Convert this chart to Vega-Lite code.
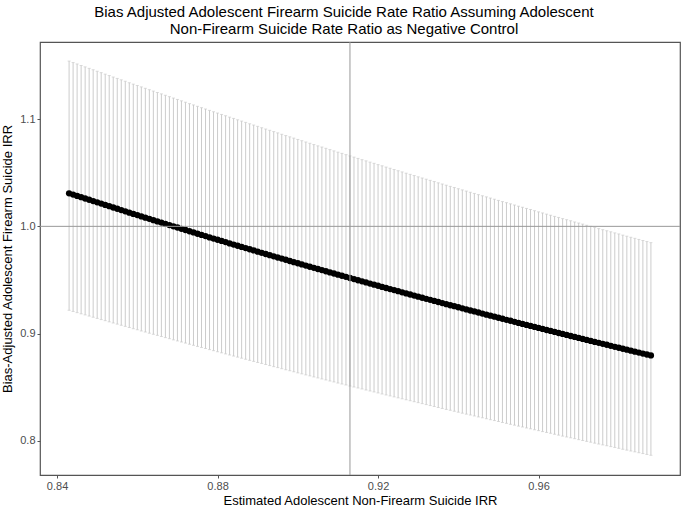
{
"$schema":"https://vega.github.io/schema/vega-lite/v6.json",
"width":640,"height":433,
"autosize":{"type":"none"},
"padding":{"left":40,"top":42,"right":5,"bottom":32},
"title":{"text":["Bias Adjusted Adolescent Firearm Suicide Rate Ratio Assuming Adolescent","Non-Firearm Suicide Rate Ratio as Negative Control"],"fontSize":15,"fontWeight":"normal","anchor":"middle","frame":"group","dx":-16,"offset":5,"color":"#000000","lineHeight":17},
"data":{"values":[
{"x":0.843,"y":1.0308,"lo":0.9217,"hi":1.1542},
{"x":0.844,"y":1.0296,"lo":0.9206,"hi":1.1528},
{"x":0.845,"y":1.0284,"lo":0.9195,"hi":1.1515},
{"x":0.846,"y":1.0272,"lo":0.9184,"hi":1.1501},
{"x":0.847,"y":1.0260,"lo":0.9174,"hi":1.1488},
{"x":0.848,"y":1.0248,"lo":0.9163,"hi":1.1474},
{"x":0.849,"y":1.0236,"lo":0.9152,"hi":1.1461},
{"x":0.850,"y":1.0224,"lo":0.9141,"hi":1.1447},
{"x":0.851,"y":1.0212,"lo":0.9130,"hi":1.1434},
{"x":0.852,"y":1.0200,"lo":0.9120,"hi":1.1420},
{"x":0.853,"y":1.0188,"lo":0.9109,"hi":1.1407},
{"x":0.854,"y":1.0176,"lo":0.9098,"hi":1.1393},
{"x":0.855,"y":1.0164,"lo":0.9088,"hi":1.1380},
{"x":0.856,"y":1.0152,"lo":0.9077,"hi":1.1367},
{"x":0.857,"y":1.0140,"lo":0.9067,"hi":1.1354},
{"x":0.858,"y":1.0128,"lo":0.9056,"hi":1.1340},
{"x":0.859,"y":1.0116,"lo":0.9045,"hi":1.1327},
{"x":0.860,"y":1.0105,"lo":0.9035,"hi":1.1314},
{"x":0.861,"y":1.0093,"lo":0.9024,"hi":1.1301},
{"x":0.862,"y":1.0081,"lo":0.9014,"hi":1.1288},
{"x":0.863,"y":1.0070,"lo":0.9003,"hi":1.1275},
{"x":0.864,"y":1.0058,"lo":0.8993,"hi":1.1262},
{"x":0.865,"y":1.0046,"lo":0.8983,"hi":1.1249},
{"x":0.866,"y":1.0035,"lo":0.8972,"hi":1.1236},
{"x":0.867,"y":1.0023,"lo":0.8962,"hi":1.1223},
{"x":0.868,"y":1.0012,"lo":0.8952,"hi":1.1210},
{"x":0.869,"y":1.0000,"lo":0.8941,"hi":1.1197},
{"x":0.870,"y":0.9989,"lo":0.8931,"hi":1.1184},
{"x":0.871,"y":0.9977,"lo":0.8921,"hi":1.1171},
{"x":0.872,"y":0.9966,"lo":0.8911,"hi":1.1158},
{"x":0.873,"y":0.9954,"lo":0.8900,"hi":1.1145},
{"x":0.874,"y":0.9943,"lo":0.8890,"hi":1.1133},
{"x":0.875,"y":0.9931,"lo":0.8880,"hi":1.1120},
{"x":0.876,"y":0.9920,"lo":0.8870,"hi":1.1107},
{"x":0.877,"y":0.9909,"lo":0.8860,"hi":1.1095},
{"x":0.878,"y":0.9897,"lo":0.8850,"hi":1.1082},
{"x":0.879,"y":0.9886,"lo":0.8840,"hi":1.1069},
{"x":0.880,"y":0.9875,"lo":0.8830,"hi":1.1057},
{"x":0.881,"y":0.9864,"lo":0.8820,"hi":1.1044},
{"x":0.882,"y":0.9853,"lo":0.8810,"hi":1.1032},
{"x":0.883,"y":0.9841,"lo":0.8800,"hi":1.1019},
{"x":0.884,"y":0.9830,"lo":0.8790,"hi":1.1007},
{"x":0.885,"y":0.9819,"lo":0.8780,"hi":1.0994},
{"x":0.886,"y":0.9808,"lo":0.8770,"hi":1.0982},
{"x":0.887,"y":0.9797,"lo":0.8760,"hi":1.0970},
{"x":0.888,"y":0.9786,"lo":0.8750,"hi":1.0957},
{"x":0.889,"y":0.9775,"lo":0.8740,"hi":1.0945},
{"x":0.890,"y":0.9764,"lo":0.8730,"hi":1.0933},
{"x":0.891,"y":0.9753,"lo":0.8721,"hi":1.0920},
{"x":0.892,"y":0.9742,"lo":0.8711,"hi":1.0908},
{"x":0.893,"y":0.9731,"lo":0.8701,"hi":1.0896},
{"x":0.894,"y":0.9720,"lo":0.8691,"hi":1.0884},
{"x":0.895,"y":0.9709,"lo":0.8682,"hi":1.0872},
{"x":0.896,"y":0.9699,"lo":0.8672,"hi":1.0859},
{"x":0.897,"y":0.9688,"lo":0.8662,"hi":1.0847},
{"x":0.898,"y":0.9677,"lo":0.8653,"hi":1.0835},
{"x":0.899,"y":0.9666,"lo":0.8643,"hi":1.0823},
{"x":0.900,"y":0.9656,"lo":0.8633,"hi":1.0811},
{"x":0.901,"y":0.9645,"lo":0.8624,"hi":1.0799},
{"x":0.902,"y":0.9634,"lo":0.8614,"hi":1.0787},
{"x":0.903,"y":0.9623,"lo":0.8605,"hi":1.0775},
{"x":0.904,"y":0.9613,"lo":0.8595,"hi":1.0763},
{"x":0.905,"y":0.9602,"lo":0.8586,"hi":1.0751},
{"x":0.906,"y":0.9592,"lo":0.8576,"hi":1.0740},
{"x":0.907,"y":0.9581,"lo":0.8567,"hi":1.0728},
{"x":0.908,"y":0.9570,"lo":0.8557,"hi":1.0716},
{"x":0.909,"y":0.9560,"lo":0.8548,"hi":1.0704},
{"x":0.910,"y":0.9549,"lo":0.8538,"hi":1.0692},
{"x":0.911,"y":0.9539,"lo":0.8529,"hi":1.0681},
{"x":0.912,"y":0.9529,"lo":0.8520,"hi":1.0669},
{"x":0.913,"y":0.9518,"lo":0.8510,"hi":1.0657},
{"x":0.914,"y":0.9508,"lo":0.8501,"hi":1.0646},
{"x":0.915,"y":0.9497,"lo":0.8492,"hi":1.0634},
{"x":0.916,"y":0.9487,"lo":0.8483,"hi":1.0622},
{"x":0.917,"y":0.9477,"lo":0.8473,"hi":1.0611},
{"x":0.918,"y":0.9466,"lo":0.8464,"hi":1.0599},
{"x":0.919,"y":0.9456,"lo":0.8455,"hi":1.0588},
{"x":0.920,"y":0.9446,"lo":0.8446,"hi":1.0576},
{"x":0.921,"y":0.9435,"lo":0.8436,"hi":1.0565},
{"x":0.922,"y":0.9425,"lo":0.8427,"hi":1.0553},
{"x":0.923,"y":0.9415,"lo":0.8418,"hi":1.0542},
{"x":0.924,"y":0.9405,"lo":0.8409,"hi":1.0530},
{"x":0.925,"y":0.9395,"lo":0.8400,"hi":1.0519},
{"x":0.926,"y":0.9384,"lo":0.8391,"hi":1.0508},
{"x":0.927,"y":0.9374,"lo":0.8382,"hi":1.0496},
{"x":0.928,"y":0.9364,"lo":0.8373,"hi":1.0485},
{"x":0.929,"y":0.9354,"lo":0.8364,"hi":1.0474},
{"x":0.930,"y":0.9344,"lo":0.8355,"hi":1.0462},
{"x":0.931,"y":0.9334,"lo":0.8346,"hi":1.0451},
{"x":0.932,"y":0.9324,"lo":0.8337,"hi":1.0440},
{"x":0.933,"y":0.9314,"lo":0.8328,"hi":1.0429},
{"x":0.934,"y":0.9304,"lo":0.8319,"hi":1.0418},
{"x":0.935,"y":0.9294,"lo":0.8310,"hi":1.0406},
{"x":0.936,"y":0.9284,"lo":0.8301,"hi":1.0395},
{"x":0.937,"y":0.9274,"lo":0.8292,"hi":1.0384},
{"x":0.938,"y":0.9264,"lo":0.8284,"hi":1.0373},
{"x":0.939,"y":0.9255,"lo":0.8275,"hi":1.0362},
{"x":0.940,"y":0.9245,"lo":0.8266,"hi":1.0351},
{"x":0.941,"y":0.9235,"lo":0.8257,"hi":1.0340},
{"x":0.942,"y":0.9225,"lo":0.8248,"hi":1.0329},
{"x":0.943,"y":0.9215,"lo":0.8240,"hi":1.0318},
{"x":0.944,"y":0.9206,"lo":0.8231,"hi":1.0307},
{"x":0.945,"y":0.9196,"lo":0.8222,"hi":1.0296},
{"x":0.946,"y":0.9186,"lo":0.8214,"hi":1.0285},
{"x":0.947,"y":0.9176,"lo":0.8205,"hi":1.0275},
{"x":0.948,"y":0.9167,"lo":0.8196,"hi":1.0264},
{"x":0.949,"y":0.9157,"lo":0.8188,"hi":1.0253},
{"x":0.950,"y":0.9147,"lo":0.8179,"hi":1.0242},
{"x":0.951,"y":0.9138,"lo":0.8170,"hi":1.0231},
{"x":0.952,"y":0.9128,"lo":0.8162,"hi":1.0221},
{"x":0.953,"y":0.9119,"lo":0.8153,"hi":1.0210},
{"x":0.954,"y":0.9109,"lo":0.8145,"hi":1.0199},
{"x":0.955,"y":0.9099,"lo":0.8136,"hi":1.0188},
{"x":0.956,"y":0.9090,"lo":0.8128,"hi":1.0178},
{"x":0.957,"y":0.9080,"lo":0.8119,"hi":1.0167},
{"x":0.958,"y":0.9071,"lo":0.8111,"hi":1.0157},
{"x":0.959,"y":0.9062,"lo":0.8102,"hi":1.0146},
{"x":0.960,"y":0.9052,"lo":0.8094,"hi":1.0135},
{"x":0.961,"y":0.9043,"lo":0.8085,"hi":1.0125},
{"x":0.962,"y":0.9033,"lo":0.8077,"hi":1.0114},
{"x":0.963,"y":0.9024,"lo":0.8069,"hi":1.0104},
{"x":0.964,"y":0.9015,"lo":0.8060,"hi":1.0093},
{"x":0.965,"y":0.9005,"lo":0.8052,"hi":1.0083},
{"x":0.966,"y":0.8996,"lo":0.8043,"hi":1.0072},
{"x":0.967,"y":0.8987,"lo":0.8035,"hi":1.0062},
{"x":0.968,"y":0.8977,"lo":0.8027,"hi":1.0052},
{"x":0.969,"y":0.8968,"lo":0.8019,"hi":1.0041},
{"x":0.970,"y":0.8959,"lo":0.8010,"hi":1.0031},
{"x":0.971,"y":0.8950,"lo":0.8002,"hi":1.0021},
{"x":0.972,"y":0.8940,"lo":0.7994,"hi":1.0010},
{"x":0.973,"y":0.8931,"lo":0.7986,"hi":1.0000},
{"x":0.974,"y":0.8922,"lo":0.7977,"hi":0.9990},
{"x":0.975,"y":0.8913,"lo":0.7969,"hi":0.9979},
{"x":0.976,"y":0.8904,"lo":0.7961,"hi":0.9969},
{"x":0.977,"y":0.8895,"lo":0.7953,"hi":0.9959},
{"x":0.978,"y":0.8885,"lo":0.7945,"hi":0.9949},
{"x":0.979,"y":0.8876,"lo":0.7937,"hi":0.9939},
{"x":0.980,"y":0.8867,"lo":0.7929,"hi":0.9929},
{"x":0.981,"y":0.8858,"lo":0.7920,"hi":0.9918},
{"x":0.982,"y":0.8849,"lo":0.7912,"hi":0.9908},
{"x":0.983,"y":0.8840,"lo":0.7904,"hi":0.9898},
{"x":0.984,"y":0.8831,"lo":0.7896,"hi":0.9888},
{"x":0.985,"y":0.8822,"lo":0.7888,"hi":0.9878},
{"x":0.986,"y":0.8813,"lo":0.7880,"hi":0.9868},
{"x":0.987,"y":0.8804,"lo":0.7872,"hi":0.9858},
{"x":0.988,"y":0.8796,"lo":0.7864,"hi":0.9848}
]},
"layer":[
{"mark":{"type":"rule","color":"#cccccc","strokeWidth":1},
 "encoding":{"x":{"field":"x","type":"quantitative","scale":{"domain":[0.83575,0.99525],"nice":false,"zero":false},
   "axis":{"values":[0.84,0.88,0.92,0.96],"format":".2f","title":"Estimated Adolescent Non-Firearm Suicide IRR"}},
  "y":{"field":"lo","type":"quantitative","scale":{"domain":[0.768,1.172],"nice":false,"zero":false},
   "axis":{"values":[0.8,0.9,1.0,1.1],"format":".1f","title":"Bias-Adjusted Adolescent Firearm Suicide IRR"}},
  "y2":{"field":"hi"}}},
{"mark":{"type":"tick","orient":"horizontal","color":"#cccccc","size":3,"thickness":1},
 "encoding":{"x":{"field":"x","type":"quantitative"},"y":{"field":"hi","type":"quantitative"}}},
{"mark":{"type":"tick","orient":"horizontal","color":"#cccccc","size":3,"thickness":1},
 "encoding":{"x":{"field":"x","type":"quantitative"},"y":{"field":"lo","type":"quantitative"}}},
{"mark":{"type":"circle","color":"#000000","opacity":1,"size":40},
 "encoding":{"x":{"field":"x","type":"quantitative"},"y":{"field":"y","type":"quantitative"}}},
{"data":{"values":[{"yref":1.0}]},
 "mark":{"type":"rule","color":"#999999","strokeWidth":1},
 "encoding":{"y":{"field":"yref","type":"quantitative"}}},
{"data":{"values":[{"xref":0.913}]},
 "mark":{"type":"rule","color":"#999999","strokeWidth":1},
 "encoding":{"x":{"field":"xref","type":"quantitative"}}}
],
"config":{
 "font":"Liberation Sans",
 "background":"#ffffff",
 "view":{"stroke":"#555555","strokeWidth":1.2},
 "axis":{"grid":false,"domain":false,"ticks":true,"tickColor":"#555555","tickSize":3,"labelColor":"#4d4d4d","labelFontSize":11,"labelPadding":2,"titleFontSize":13,"titleFontWeight":"normal","titleColor":"#000000"},
 "axisX":{"titlePadding":3},
 "axisY":{"titlePadding":5}
}
}
